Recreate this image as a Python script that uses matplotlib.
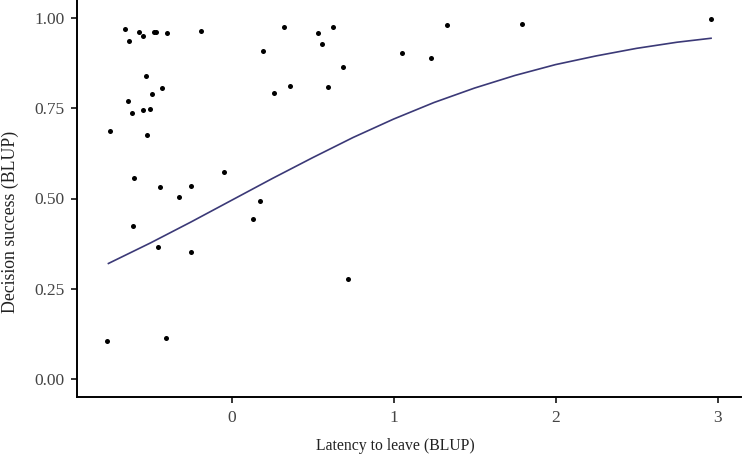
import numpy as np
import matplotlib.pyplot as plt

plt.rcParams['font.family'] = ['Liberation Serif', 'DejaVu Serif']

# Data
latency = [-0.657, -0.630, -0.570, -0.546, -0.478, -0.467, -0.399, -0.188,
           0.193, 0.325, 0.535, 0.556, 0.627, 0.687, -0.527, -0.638,
           -0.614, -0.549, -0.494, -0.506, -0.430, -0.749, -0.523, 0.261,
           0.360, 0.594, -0.601, -0.441, -0.327, -0.253, -0.049, 0.173,
           0.133, -0.609, -0.451, -0.253, 0.718, -0.768, -0.404, 1.051,
           1.230, 1.329, 1.790, 2.959]
success = [0.970, 0.936, 0.961, 0.951, 0.960, 0.961, 0.958, 0.965,
           0.909, 0.976, 0.958, 0.928, 0.974, 0.863, 0.840, 0.770,
           0.736, 0.745, 0.790, 0.749, 0.805, 0.688, 0.675, 0.791,
           0.811, 0.809, 0.556, 0.531, 0.504, 0.536, 0.573, 0.494,
           0.444, 0.425, 0.366, 0.351, 0.278, 0.105, 0.114, 0.903,
           0.890, 0.982, 0.983, 0.997]

# fitted curve
fit_x = [-0.76, -0.5, -0.25, 0, 0.25, 0.5, 0.75, 1.0, 1.25, 1.5, 1.75,
         2.0, 2.25, 2.5, 2.75, 2.96]
fit_y = [0.320, 0.377, 0.435, 0.495, 0.555, 0.613, 0.669, 0.720, 0.766,
         0.806, 0.841, 0.871, 0.895, 0.916, 0.933, 0.944]

x_ticks = [0, 1, 2, 3]
y_ticks = [0.0, 0.25, 0.5, 0.75, 1.0]

fig = plt.figure(figsize=(7.47, 4.55), dpi=100)
ax = fig.add_axes([77/747, 58/455, 664/747, 397/455])

ax.plot(fit_x, fit_y, color='#3b3977', lw=1.2, zorder=2)
ax.scatter(latency, success, s=13, color='black', zorder=3, linewidths=0)

ax.set_xlim(-0.954, 3.145)
ax.set_ylim(-0.05, 1.05)
ax.set_xticks(x_ticks)
ax.set_yticks(y_ticks)
ax.set_yticklabels(['%.2f' % v for v in y_ticks])

for s in ['top', 'right']:
    ax.spines[s].set_visible(False)
for s in ['left', 'bottom']:
    ax.spines[s].set_linewidth(1.4)
ax.tick_params(direction='out', length=4, width=1.1, labelsize=12.5,
               labelcolor='#444444', pad=5)

# axis titles placed where the reference has them
fig.text(395/747, 1 - 446/455, 'Latency to leave (BLUP)', fontsize=11.3,
         color='#222222', ha='center', va='center')
fig.text(10/747, 1 - 222/455, 'Decision success (BLUP)', fontsize=12.8,
         color='#222222', ha='center', va='center', rotation=90)

fig.savefig('out.png', dpi=100)
